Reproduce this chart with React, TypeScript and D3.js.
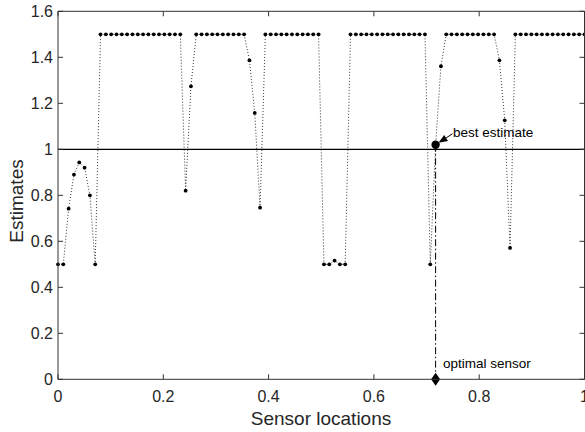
import React from "react";
import * as d3 from "d3";

const locations = [
  0, 0.0101, 0.0202, 0.0303, 0.0404, 0.0505, 0.0606, 0.0707, 0.0808, 0.0909,
  0.101, 0.1111, 0.1212, 0.1313, 0.1414, 0.1515, 0.1616, 0.1717, 0.1818, 0.1919,
  0.202, 0.2121, 0.2222, 0.2323, 0.2424, 0.2525, 0.2626, 0.2727, 0.2828, 0.2929,
  0.303, 0.3131, 0.3232, 0.3333, 0.3434, 0.3535, 0.3636, 0.3737, 0.3838, 0.3939,
  0.404, 0.4141, 0.4242, 0.4343, 0.4444, 0.4545, 0.4646, 0.4747, 0.4848, 0.4949,
  0.5051, 0.5152, 0.5253, 0.5354, 0.5455, 0.5556, 0.5657, 0.5758, 0.5859, 0.596,
  0.6061, 0.6162, 0.6263, 0.6364, 0.6465, 0.6566, 0.6667, 0.6768, 0.6869, 0.697,
  0.7071, 0.7172, 0.7273, 0.7374, 0.7475, 0.7576, 0.7677, 0.7778, 0.7879, 0.798,
  0.8081, 0.8182, 0.8283, 0.8384, 0.8485, 0.8586, 0.8687, 0.8788, 0.8889, 0.899,
  0.9091, 0.9192, 0.9293, 0.9394, 0.9495, 0.9596, 0.9697, 0.9798, 0.9899, 1,
];

const estimates = [
  0.5, 0.5, 0.742, 0.89, 0.943, 0.92, 0.8, 0.5,
  1.5, 1.5, 1.5, 1.5, 1.5, 1.5, 1.5, 1.5, 1.5, 1.5, 1.5, 1.5, 1.5, 1.5, 1.5, 1.5,
  0.82, 1.274,
  1.5, 1.5, 1.5, 1.5, 1.5, 1.5, 1.5, 1.5, 1.5, 1.5,
  1.387, 1.158, 0.746,
  1.5, 1.5, 1.5, 1.5, 1.5, 1.5, 1.5, 1.5, 1.5, 1.5, 1.5,
  0.5, 0.5, 0.516, 0.5, 0.5,
  1.5, 1.5, 1.5, 1.5, 1.5, 1.5, 1.5, 1.5, 1.5, 1.5, 1.5, 1.5, 1.5, 1.5, 1.5,
  0.5, 1.02, 1.361,
  1.5, 1.5, 1.5, 1.5, 1.5, 1.5, 1.5, 1.5, 1.5, 1.5,
  1.387, 1.126, 0.571,
  1.5, 1.5, 1.5, 1.5, 1.5, 1.5, 1.5, 1.5, 1.5, 1.5, 1.5, 1.5, 1.5, 1.5,
];

const bestLocation = 0.7172;
const bestEstimate = 1.02;
const referenceLevel = 1;

const xTicks = [0, 0.2, 0.4, 0.6, 0.8, 1];
const xTickLabels = ["0", "0.2", "0.4", "0.6", "0.8", "1"];
const yTicks = [0, 0.2, 0.4, 0.6, 0.8, 1, 1.2, 1.4, 1.6];
const yTickLabels = ["0", "0.2", "0.4", "0.6", "0.8", "1", "1.2", "1.4", "1.6"];

const W = 585;
const H = 432;
const FONT = "'Liberation Sans', Arial, Helvetica, sans-serif";
const AX = "#333333";

export default function App() {
  const x = d3.scaleLinear().domain([0, 1]).range([58, 584.5]);
  const y = d3.scaleLinear().domain([0, 1.6]).range([379.3, 11.3]);
  const pts = locations.map((l, i) => [l, estimates[i]] as [number, number]);
  const line = d3
    .line<[number, number]>()
    .x((d) => x(d[0]))
    .y((d) => y(d[1]));

  const [x0, x1] = x.range();
  const [y0, y1] = y.range();
  const bx = x(bestLocation);
  const by = y(bestEstimate);

  // arrow geometry
  const ax1 = bx + 17;
  const ay1 = by - 11;
  const ang = Math.atan2(by - ay1, bx - ax1);
  const tipX = bx + 3.5 * Math.cos(ang + Math.PI);
  const tipY = by + 3.5 * Math.sin(ang + Math.PI);
  const hl = 9;
  const hw = 3.6;
  const baseX = tipX - hl * Math.cos(ang);
  const baseY = tipY - hl * Math.sin(ang);
  const head = [
    [tipX, tipY],
    [baseX + hw * Math.sin(ang), baseY - hw * Math.cos(ang)],
    [baseX - hw * Math.sin(ang), baseY + hw * Math.cos(ang)],
  ];

  return (
    <svg
      width={W}
      height={H}
      style={{ position: "absolute", left: 0, top: 0, background: "#fff" }}
      fontFamily={FONT}
    >
      <rect x={0} y={0} width={W} height={H} fill="#fff" />
      <line x1={x0} x2={x1} y1={y(referenceLevel)} y2={y(referenceLevel)} stroke="#000" strokeWidth={1.2} />
      <path d={line(pts) || ""} fill="none" stroke="#000" strokeWidth={0.8} strokeDasharray="1,2" />
      <line x1={bx} x2={bx} y1={by} y2={y(0)} stroke="#000" strokeWidth={1} strokeDasharray="7,2.5,1.5,2.5" />
      {pts.map((d, i) => (
        <circle key={i} cx={x(d[0])} cy={y(d[1])} r={1.9} fill="#000" />
      ))}
      <circle cx={bx} cy={by} r={4.2} fill="#000" />
      <line x1={ax1} y1={ay1} x2={baseX} y2={baseY} stroke="#000" strokeWidth={1} />
      <polygon points={head.map((p) => p.join(",")).join(" ")} fill="#000" />
      <text x={453} y={137} fontSize={13.5} fill="#000">best estimate</text>
      <polygon
        points={`${bx},${y(0) - 6.5} ${bx + 4.5},${y(0)} ${bx},${y(0) + 6.5} ${bx - 4.5},${y(0)}`}
        fill="#000"
      />
      <text x={443} y={368} fontSize={13.5} fill="#000">optimal sensor</text>

      <line x1={x0} x2={x1} y1={y0} y2={y0} stroke={AX} strokeWidth={1} />
      <line x1={x0} x2={x1} y1={y1} y2={y1} stroke={AX} strokeWidth={1} />
      <line x1={x0} x2={x0} y1={y0} y2={y1} stroke={AX} strokeWidth={1} />
      <line x1={x1} x2={x1} y1={y0} y2={y1} stroke={AX} strokeWidth={1} />
      {xTicks.map((t, i) => (
        <g key={"xt" + i}>
          <line x1={x(t)} x2={x(t)} y1={y0} y2={y0 - 5} stroke={AX} />
          <line x1={x(t)} x2={x(t)} y1={y1} y2={y1 + 5} stroke={AX} />
          <text x={x(t)} y={401.5} textAnchor="middle" fontSize={16} fill="#262626">
            {xTickLabels[i]}
          </text>
        </g>
      ))}
      {yTicks.map((t, i) => (
        <g key={"yt" + i}>
          <line x1={x0} x2={x0 + 5} y1={y(t)} y2={y(t)} stroke={AX} />
          <line x1={x1} x2={x1 - 5} y1={y(t)} y2={y(t)} stroke={AX} />
          <text x={53} y={y(t)} dy="0.36em" textAnchor="end" fontSize={16} fill="#262626">
            {yTickLabels[i]}
          </text>
        </g>
      ))}
      <text x={321} y={425} textAnchor="middle" fontSize={19} fill="#262626">
        Sensor locations
      </text>
      <text
        transform={`translate(23,201) rotate(-90)`}
        textAnchor="middle"
        fontSize={19}
        fill="#262626"
      >
        Estimates
      </text>
    </svg>
  );
}
